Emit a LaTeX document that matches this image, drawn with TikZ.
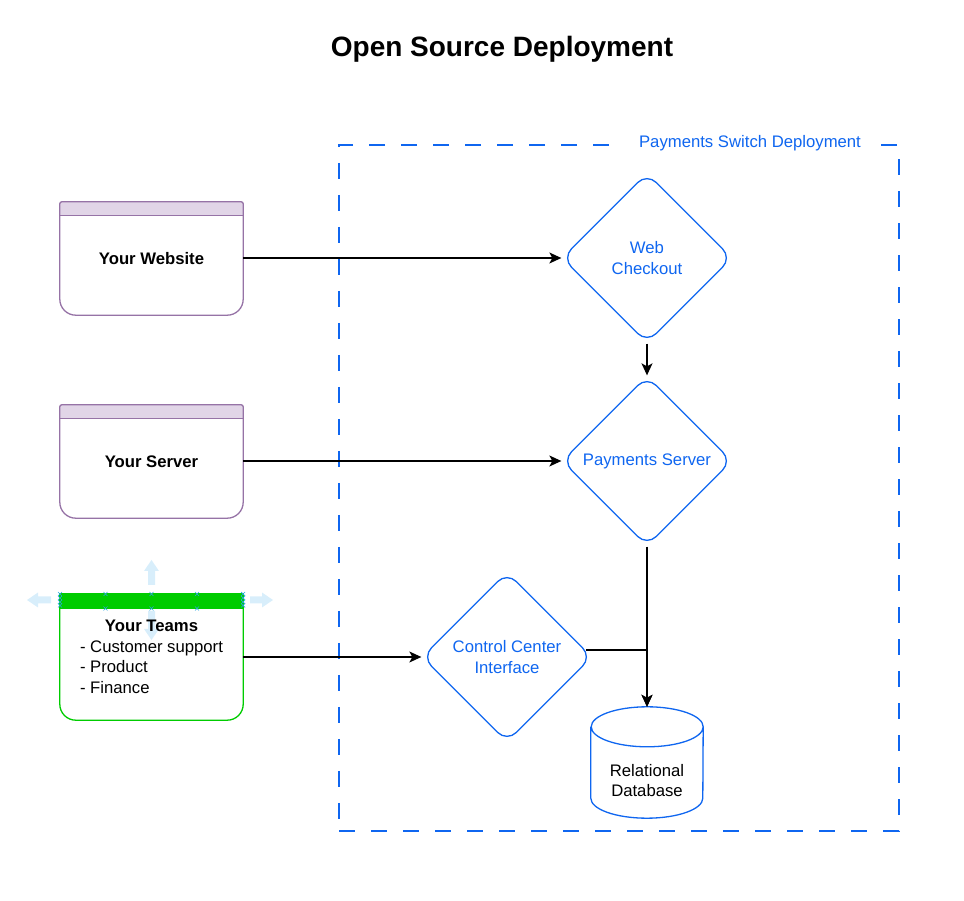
\documentclass[tikz,border=0pt]{standalone}
\usepackage{fontspec}
\setmainfont{Liberation Sans}
\usetikzlibrary{arrows.meta,shapes.geometric}
\definecolor{bl}{HTML}{0F66F0}
\definecolor{purp}{HTML}{9673A6}
\definecolor{purpfill}{HTML}{E1D5E7}
\definecolor{grn}{HTML}{00CC00}
\definecolor{handle}{HTML}{D8EEFB}
\definecolor{handlex}{HTML}{29A8E0}
\newcommand\cardshape[4]{%
  \fill[#3] ([yshift=-#4]#1.north west) -- ([yshift=-2pt]#1.north west)
     arc[start angle=180,end angle=90,radius=2pt] -- ([xshift=-2pt]#1.north east)
     arc[start angle=90,end angle=0,radius=2pt] -- ([yshift=-#4]#1.north east) -- cycle;
  \draw[#2, line width=1.3pt] ([yshift=-2pt]#1.north west) -- ([yshift=16pt]#1.south west)
     arc[start angle=180,end angle=270,radius=16pt] -- ([xshift=-16pt]#1.south east)
     arc[start angle=270,end angle=360,radius=16pt] -- ([yshift=-2pt]#1.north east)
     arc[start angle=0,end angle=90,radius=2pt] -- ([xshift=2pt]#1.north west)
     arc[start angle=90,end angle=180,radius=2pt] -- cycle;
  \draw[#2, line width=1.3pt] ([yshift=-#4]#1.north west) -- ([yshift=-#4]#1.north east);
}
\newcommand\handlecross[2]{%
  \draw[handlex, line width=0.7pt] (#1-2,#2-2) -- (#1+2,#2+2) (#1-2,#2+2) -- (#1+2,#2-2);
}
\begin{document}
\begin{tikzpicture}[x=1pt,y=1pt,
  body/.style={font=\fontsize{16.7}{20.4}\selectfont},
  arr/.style={draw=black, line width=1.3pt, -{Stealth[length=12pt,width=11pt,inset=3pt]}},
  dia/.style={diamond, draw=bl, line width=1.3pt, rounded corners=13pt,
    minimum width=170pt, minimum height=170pt, aspect=1, inner sep=0pt,
    align=center, text=bl, body},
  card/.style={rectangle, minimum width=183pt, inner sep=0pt, align=center, body},
]
\useasboundingbox (0,0) rectangle (964,900);

% title
\node[font=\bfseries\fontsize{28}{32}\selectfont, anchor=base] (title) at (502,843.5) {Open Source Deployment};

% container
\node[draw=bl, line width=1.3pt, dash pattern=on 16pt off 16pt,
      minimum width=560pt, minimum height=686pt, inner sep=0pt] (container) at (619,412) {};
\node[body, text=bl, fill=white, inner xsep=15pt, inner ysep=2pt] (clabel) at (750,757) {Payments Switch Deployment};

% selection handles (behind teams card)
\fill[handle] (27,300) -- (38,307.5) -- (38,303.5) -- (51,303.5) -- (51,296.5) -- (38,296.5) -- (38,292.5) -- cycle;
\fill[handle] (273,300) -- (262,307.5) -- (262,303.5) -- (250,303.5) -- (250,296.5) -- (262,296.5) -- (262,292.5) -- cycle;
\fill[handle] (151.5,340) -- (159,329) -- (155,329) -- (155,315) -- (148,315) -- (148,329) -- (144,329) -- cycle;
\fill[handle] (151.5,260) -- (159,271) -- (155,271) -- (155,289) -- (148,289) -- (148,271) -- (144,271) -- cycle;

% cards
\node[card, minimum height=113pt] (web) at (151.5,641.5) {\textbf{Your Website}};
\node[card, minimum height=113pt] (srv) at (151.5,438.5) {\textbf{Your Server}};
\node[card, minimum height=126pt] (teams) at (151.5,243) {};
\node[body, inner sep=0pt] (teamstext) at (151.5,241.5) {\begin{tabular}{@{}l@{}}\multicolumn{1}{@{}c@{}}{\textbf{Your Teams}}\\- Customer support\\- Product\\- Finance\end{tabular}};
\cardshape{web}{purp}{purpfill}{14pt}
\cardshape{srv}{purp}{purpfill}{14pt}
\fill[grn] ([yshift=-15pt]teams.north west) rectangle (teams.north east);
\draw[grn, line width=1.3pt] (teams.north west) -- ([yshift=16pt]teams.south west)
   arc[start angle=180,end angle=270,radius=16pt] -- ([xshift=-16pt]teams.south east)
   arc[start angle=270,end angle=360,radius=16pt] -- (teams.north east) -- cycle;

% handle crosses
\foreach \hx in {60,105.5,151.5,197,243} {\handlecross{\hx}{306}}
\foreach \hx in {105.5,151.5,197} {\handlecross{\hx}{291.5}}
\foreach \hy in {302,298,294.5} {\handlecross{60}{\hy}\handlecross{243}{\hy}}

% diamonds
\node[dia] (wc) at (647,642) {Web\\Checkout};
\node[dia] (ps) at (647,439) {Payments Server};
\node[dia] (cci) at (507,243) {Control Center\\Interface};

% database
\node[minimum width=112pt, minimum height=111pt, inner sep=0pt] (db) at (647,137.5) {};
\filldraw[draw=bl, fill=white, line width=1.3pt] ([yshift=-20pt]db.north west) -- ([yshift=20pt]db.south west)
   arc[start angle=180,end angle=360,x radius=56pt,y radius=20pt] -- ([yshift=-20pt]db.north east)
   arc[start angle=0,end angle=180,x radius=56pt,y radius=20pt]
   arc[start angle=180,end angle=360,x radius=56pt,y radius=20pt];
\node[body, align=center] (dbt) at (647,119.5) {Relational\\Database};

% connectors
\draw[arr] (web.east |- wc.west) -- (wc.west);
\draw[arr] (srv.east |- ps.west) -- (ps.west);
\draw[arr] (teams.east |- cci.west) -- (cci.west);
\draw[arr] (wc.south) -- (ps.north);
\draw[arr] (ps.south) -- (db.north);
\draw[arr] (cci.5.2) -| (db.north);
\end{tikzpicture}
\end{document}
